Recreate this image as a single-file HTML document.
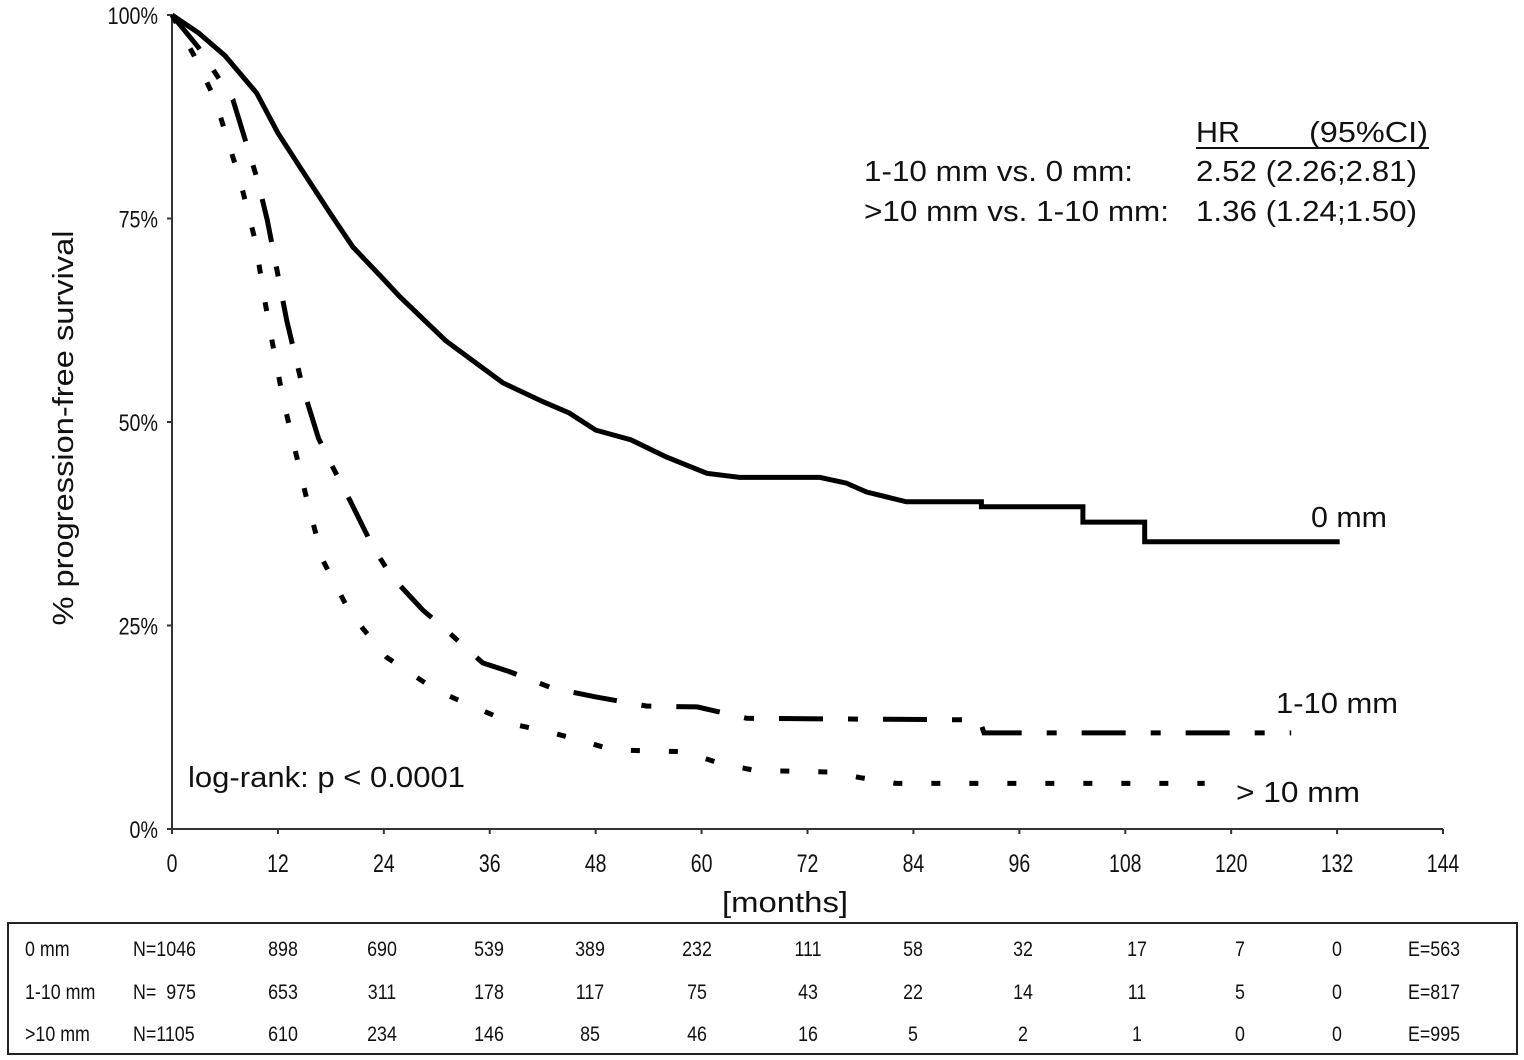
<!DOCTYPE html>
<html><head><meta charset="utf-8"><style>
html,body{margin:0;padding:0;background:#fff;}
svg{display:block;font-family:"Liberation Sans",sans-serif;}
</style></head><body>
<svg id="chart" width="1524" height="1060" viewBox="0 0 1524 1060" xmlns="http://www.w3.org/2000/svg">
<g id="axes"></g>
<g id="curves"></g>
<g font-size="29" fill="#111">
  <text x="1196" y="142" textLength="44" lengthAdjust="spacingAndGlyphs">HR</text>
  <text x="1309" y="142" textLength="119" lengthAdjust="spacingAndGlyphs">(95%CI)</text>
  <line x1="1196" y1="148" x2="1429" y2="148" stroke="#111" stroke-width="2"/>
  <text x="864" y="181" textLength="269" lengthAdjust="spacingAndGlyphs">1-10 mm vs. 0 mm:</text>
  <text x="1196" y="181" textLength="221" lengthAdjust="spacingAndGlyphs">2.52 (2.26;2.81)</text>
  <text x="864" y="221" textLength="305" lengthAdjust="spacingAndGlyphs">&gt;10 mm vs. 1-10 mm:</text>
  <text x="1196" y="221" textLength="221" lengthAdjust="spacingAndGlyphs">1.36 (1.24;1.50)</text>
</g>
<g font-size="29" fill="#111">
  <text x="1311" y="527" textLength="76" lengthAdjust="spacingAndGlyphs">0 mm</text>
  <text x="1276" y="713" textLength="122" lengthAdjust="spacingAndGlyphs">1-10 mm</text>
  <text x="1236" y="802" textLength="124" lengthAdjust="spacingAndGlyphs">&gt; 10 mm</text>
  <text x="188" y="787" textLength="277" lengthAdjust="spacingAndGlyphs">log-rank: p &lt; 0.0001</text>
  <text x="785" y="912" text-anchor="middle" textLength="126" lengthAdjust="spacingAndGlyphs">[months]</text>
  <text transform="translate(73,428) rotate(-90)" text-anchor="middle" textLength="395" lengthAdjust="spacingAndGlyphs">% progression-free survival</text>
</g>
<rect x="8" y="923" width="1509" height="131" fill="none" stroke="#222" stroke-width="2"/>
<g id="table" font-size="21" fill="#111"></g>
</svg>
<script>
const xTicks=[0,12,24,36,48,60,72,84,96,108,120,132,144];
const yTicks=[0,25,50,75,100];
const t0=[0,3,6,9.6,12,14.5,18,20.5,24,25.8,31,37.5,42,45,48,52,56,60.6,64.3,73.4,76.4,78.7,83.2,91.7,91.7,103.2,103.2,110.2,110.2,132.3];
const s0=[100,97.8,95,90.4,85.5,81.3,75.5,71.5,67.5,65.4,60,54.8,52.5,51.1,49,47.8,45.7,43.7,43.2,43.2,42.5,41.4,40.2,40.2,39.6,39.6,37.7,37.7,35.3,35.3];
const t1=[0,3,6.9,9.7,10.8,13,14.8,16.6,18.2,20.1,22.8,24.9,28.4,31,35.2,38.3,43.1,48.1,53.8,59.5,65.1,91.5,92,126.8];
const s1=[100,96,89.6,79.7,74.8,62.5,54.3,48,44.5,40.5,34.6,31,26.9,24.5,20.4,19.3,17.3,16.2,15.1,15,13.6,13.4,11.8,11.8];
const t2=[0,2.5,4.9,7.7,9.4,10.5,11.1,12.6,15.3,17.1,20.2,24.3,30,35.7,39,42.8,46.2,50,58,62,66,74.5,78,82,117];
const s2=[100,95,89.6,79.7,72.4,65,61.3,52.7,40.4,33,26.5,21.1,17,14.3,12.8,11.9,10.9,9.7,9.5,8.1,7.2,7.0,6.3,5.6,5.6];
const rowLabels=["0 mm","1-10 mm",">10 mm"];
const rowN=["N=1046","N=  975","N=1105"];
const risk0=[898,690,539,389,232,111,58,32,17,7,0];
const risk1=[653,311,178,117,75,43,22,14,11,5,0];
const risk2=[610,234,146,85,46,16,5,2,1,0,0];
const events=["E=563","E=817","E=995"];
const NS="http://www.w3.org/2000/svg";
const X0=172,X1=1443,Y0=829,Y1=15;
function xs(t){return X0+(X1-X0)*t/144;}
function ys(v){return Y0-(Y0-Y1)*v/100;}
function mk(tag,attrs,parent,txt){const e=document.createElementNS(NS,tag);for(const k in attrs)e.setAttribute(k,attrs[k]);if(txt!==undefined)e.textContent=txt;parent.appendChild(e);return e;}
const axes=document.getElementById('axes');
let l=mk('line',{x1:X0,y1:Y1,x2:X0,y2:Y0,stroke:'#333','stroke-width':2},axes);


l=mk('line',{x1:X0,y1:Y0,x2:X1,y2:Y0,stroke:'#333','stroke-width':2},axes);


xTicks.forEach(t=>{
  const tk=mk('line',{x1:xs(t),y1:Y0,x2:xs(t),y2:Y0+5,stroke:'#333','stroke-width':2},axes);
  
  
  const tx=mk('text',{x:xs(t),y:Y0+43,'text-anchor':'middle','font-size':25,fill:'#111',transform:`translate(${xs(t)},0) scale(0.78,1) translate(${-xs(t)},0)`},axes,String(t));
  
  
});
yTicks.forEach(v=>{
  const tk=mk('line',{x1:X0-5,y1:ys(v),x2:X0,y2:ys(v),stroke:'#333','stroke-width':2},axes);
  
  
  const tx=mk('text',{x:158,y:ys(v)+9,'text-anchor':'end','font-size':24,fill:'#111',transform:`translate(158,0) scale(0.82,1) translate(-158,0)`},axes,v+'%');
  
  
});
const curves=document.getElementById('curves');
function path(ts,ss){return ts.map((t,i)=>(i?'L':'M')+xs(t).toFixed(1)+','+ys(ss[i]).toFixed(1)).join(' ');}
let p=mk('path',{d:path(t0,s0),fill:'none',stroke:'#000','stroke-width':5,'stroke-linejoin':'miter'},curves);


p=mk('path',{d:path(t1,s1),fill:'none',stroke:'#000','stroke-width':5,'stroke-dasharray':'44 25 10 25'},curves);


p=mk('path',{d:path(t2,s2),fill:'none',stroke:'#000','stroke-width':5,'stroke-dasharray':'9 29'},curves);


const table=document.getElementById('table');
const rowsY=[956,999,1041];
const risks=[risk0,risk1,risk2];
const colX=[283,382,489,590,697,808,913,1023,1137,1240,1337];
function cond(e,x){e.setAttribute('transform',`translate(${x},0) scale(0.85,1) translate(${-x},0)`);}
rowLabels.forEach((lab,r)=>{
  let e=mk('text',{x:25,y:rowsY[r]},table,lab);
  cond(e,25);
  
  
  e=mk('text',{x:133,y:rowsY[r]},table,rowN[r]);
  cond(e,133);
  e.setAttribute('style','white-space:pre');
  
  
  risks[r].forEach((v,i)=>{
    const c=mk('text',{x:colX[i],y:rowsY[r],'text-anchor':'middle'},table,String(v));
    cond(c,colX[i]);
    
    
  });
  e=mk('text',{x:1408,y:rowsY[r]},table,events[r]);
  cond(e,1408);
  
  
});
</script>
</body></html>
